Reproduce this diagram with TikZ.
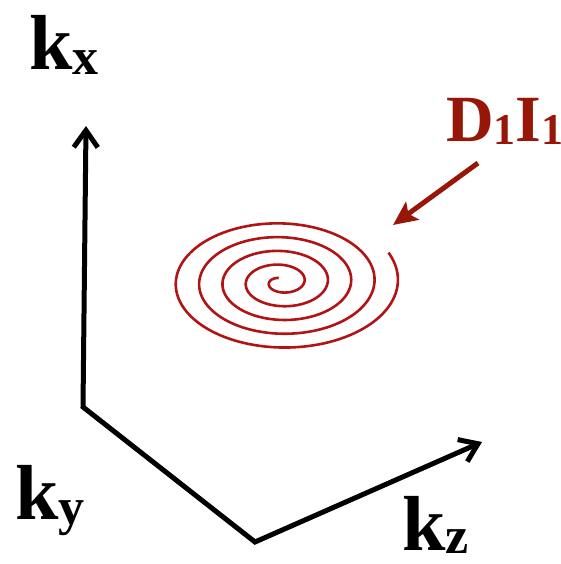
\documentclass[tikz,border=0pt]{standalone}
\usepackage{fontspec}
\setmainfont{Liberation Serif}
\usetikzlibrary{arrows.meta}
\definecolor{lblred}{RGB}{150,22,8}
\definecolor{spired}{RGB}{176,20,20}
\tikzset{
  axisline/.style={line width=5pt, line join=miter,
    {Straight Barb[length=17pt,width=24pt,line width=5pt]}-{Straight Barb[length=17pt,width=24pt,line width=5pt]}},
  lbl/.style={anchor=base west, inner sep=0pt, font=\bfseries\fontsize{78}{80}\selectfont},
  redlbl/.style={anchor=base west, inner sep=0pt, text=lblred, font=\bfseries\fontsize{66}{68}\selectfont},
  spiralline/.style={draw=spired, line width=2.6pt},
  pointer/.style={draw=lblred, line width=5pt, -{Stealth[length=24pt,width=22pt,inset=5pt]}}
}
\begin{document}
\begin{tikzpicture}[x=1pt,y=1pt]
\useasboundingbox (0,0) rectangle (561,564);
% axes
\coordinate (xtip) at (86,438);
\coordinate (o1) at (83,157);
\coordinate (o2) at (255,22);
\coordinate (ztip) at (482,122);
\draw[axisline] (xtip) -- (o1) -- (o2) -- (ztip);
% labels
\node[lbl] (kx) at (29,494) {k\raisebox{-5pt}{\fontsize{52}{52}\selectfont x}};
\node[lbl] (ky) at (15,44) {k\raisebox{-5pt}{\fontsize{52}{52}\selectfont y}};
\node[lbl] (kz) at (402,13) {k\raisebox{-3pt}{\fontsize{52}{52}\selectfont z}};
\node[redlbl] (di) at (446,422) {D\raisebox{-3pt}{\fontsize{44}{44}\selectfont 1}I\rlap{\raisebox{-3pt}{\fontsize{44}{44}\selectfont 1}}};
% spiral
\coordinate (sc) at (281,282);
\draw[spiralline] plot[domain=1.9:31.86, samples=700, variable=\t, smooth]
  ({281+3.72*\t*cos(\t r)},{282+0.59*3.72*\t*sin(\t r)});
% pointer
\coordinate (pstart) at (478,401);
\coordinate (pend) at (393,339);
\draw[pointer] (pstart) -- (pend);
\end{tikzpicture}
\end{document}
